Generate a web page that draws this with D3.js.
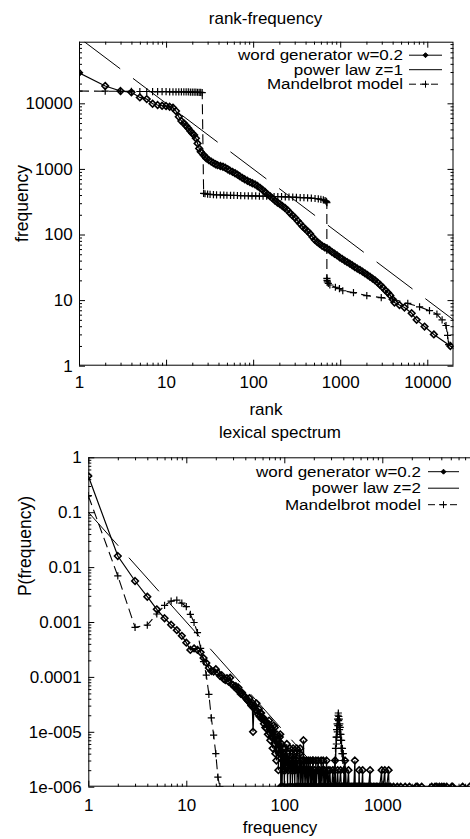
<!DOCTYPE html>
<html><head><meta charset="utf-8">
<script src="https://cdn.jsdelivr.net/npm/d3@7"></script>
<style>
html,body{margin:0;padding:0;background:#fff;}
svg{display:block;font-family:"Liberation Sans",Arial,Helvetica,sans-serif;}
</style></head><body>
<svg id="c" width="470" height="839"></svg>
<script>
// ---------------- DATA ----------------
// Panel 1: rank-frequency
const topTitle = "rank-frequency";
const topXLabel = "rank";
const topYLabel = "frequency";
const topXTicks = [1, 10, 100, 1000, 10000];
const topYTicks = [1, 10, 100, 1000, 10000];
const topLegend = ["word generator w=0.2", "power law z=1", "Mandelbrot model"];

const topWordRank = [1,2,3,4,5,6,7,8,9,10,11,12,13,14,15,16,17,18,19,20,21,22,23,24,
  25,27,28,29,31,33,35,37,39,42,45,48,51,54,58,62,66,70,75,80,86,92,98,105,112,120,128,137,146,156,167,178,190,203,217,232,248,265,283,303,324,346,370,395,422,450,480,510,545,580,620,660,705,755,805,860,920,985,1050,1125,1200,1285,1375,1470,1570,1680,1800,1925,2060,2200,2350,2510,2690,2880,3080,3300,3530,3760,4000,
  4200,4790,5470,6620,7540,9300,11900,18400,30000];
const topWordFreq = [29300,18400,15400,14700,12300,11600,9860,9420,9190,9100,8870,8570,7630,6250,5370,4950,4560,4160,3780,3490,3290,2930,2450,2050,
  1820,1630,1540,1450,1360,1290,1230,1180,1140,1110,1080,1040,990,945,900,860,820,775,730,695,660,630,605,580,550,515,480,445,410,385,355,330,308,290,272,254,235,213,195,180,162,147,132,122,112,103,92,83,77,72,67,64,61,58,54,51,48,45,42.5,40,38,36,34,32,30.3,28.8,27.2,25.6,24.1,22.7,21.3,20,18.5,17,15.6,14.1,13,11.8,10.3,
  9.2,8.4,7.7,6.3,5.0,3.95,3.0,2.0,1.2];

const topPowerRank = [1, 20000];
const topPowerFreq = [100000, 5];

const topMandRank = [1,2,3,4,5,6,7,8,9,10,11,12,13,14,15,16,17,18,19,20,21,22,23,24,25,26,
  27,28,30,32,35,38,42,46,50,55,60,66,72,80,88,97,107,118,130,143,158,174,192,212,234,258,285,314,347,383,422,466,514,560,600,640,670,690,698,702,
  703,706,712,730,760,880,980,1070,1420,2020,2960,4000,5970,8150,10600,12900,14800,16400,17100,17600];
const topMandFreq = [15400,15300,15250,15200,15150,15150,15100,15100,15050,15050,15000,15000,15000,14950,14950,14900,14900,14900,14850,14850,14800,14800,14750,14700,14650,14600,
  425,418,412,408,405,403,400,398,397,395,394,393,391,390,389,388,387,385,384,383,381,380,378,377,375,373,371,369,366,364,361,358,354,349,344,338,330,320,312,305,
  21.5,20,19,18,17,15.7,15,13.9,13,11.7,10.9,10.4,8.9,7.9,6.9,6.1,5.0,4.1,2.9,2.1];

// Panel 2: lexical spectrum
const botTitle = "lexical spectrum";
const botXLabel = "frequency";
const botYLabel = "P(frequency)";
const botXTicks = [1, 10, 100, 1000];
const botYTicks = [1, 0.1, 0.01, 0.001, 0.0001, 1e-5, 1e-6];
const botYTickLabels = ["1", "0.1", "0.01", "0.001", "0.0001", "1e-005", "1e-006"];
const botLegend = ["word generator w=0.2", "power law z=2", "Mandelbrot model"];

const botWordF = [1,2,3,4,5,6,7,8,9,10,11,12,13,14,15,16,17,18,19,20,21,22,23,24,25,26,27,28,29,30,
  31,32,33,34,35,36,37,38,39,40,41,42,43,44,45,46,47,48,49,50,51,52,53,54,55,56,57,58,59,60,
  61,62,63,64,65,66,67,68,69,70,71,72,73,74,75,76,77,78,79,80,81,82,83,84,85,86,87,88,89,90,
  91,92,93,94,95,96,97,98,99,100,102,103,105,106,108,109,111,112,114,115,117,118,120,121,123,125,126,128,129,131,
  134,135,137,139,141,143,145,147,149,151,153,155,157,159,162,164,166,169,171,173,176,178,181,184,186,189,192,195,197,199,
  203,206,210,213,217,222,225,229,233,238,242,246,250,253,258,263,270,274,280,285,292,297,305,312,318,325,330,334,342,350,
  356,365,375,382,392,400,408,412,417,421,430,440,452,458,470,485,500,512,525,530,545,560,575,580,585,600,618,630,635,655,
  680,700,725,750,755,780,810,840,870,900,940,985,990,1020,1060,1070,1110,1160,1170,1210,1300,1420,1540,1710,1890,2210,2280,2520,3190,3450,
  3590,3820,4040,4260,4540,5110,5220,6600,7800];
const botWordP = [0.456,0.0159,0.00558,0.00289,0.0017,0.00117,0.00089,0.00071,0.00056,0.00042,0.00031,0.00033,0.00031,0.00028,0.00022,0.00018,0.000145,0.000128,0.000125,0.000138,0.000118,0.000105,0.000107,0.000092,0.000088,0.000095,0.000082,0.000097,0.000074,0.000071,
  6.6e-5,6.8e-5,5.9e-5,6.4e-5,5.5e-5,4.9e-5,5.2e-5,4.7e-5,4.4e-5,4.3e-5,4.0e-5,3.8e-5,3.6e-5,4.1e-5,3.3e-5,3.0e-5,3.4e-5,1.0e-5,2.7e-5,2.9e-5,2.5e-5,3.3e-5,2.4e-5,2.1e-5,2.6e-5,1.9e-5,2.2e-5,2.2e-5,1.7e-5,1.8e-5,
  1.8e-5,1.4e-5,1.6e-5,1.2e-5,1.5e-5,1.15e-5,1.3e-5,9e-6,1.4e-5,1.6e-5,9.5e-6,7e-6,1.2e-5,8e-6,1.1e-5,5e-6,1.0e-5,1.3e-5,6e-6,1.2e-5,4e-6,8e-6,3e-6,9e-6,5e-6,7e-6,2e-6,6e-6,4e-6,8e-6,
  9e-6,1e-6,4e-6,6e-6,1e-6,3e-6,5e-6,2e-6,4e-6,1e-6,5e-6,2e-6,3e-6,6e-6,1e-6,4e-6,2e-6,3e-6,5e-6,1e-6,3e-6,2e-6,4e-6,1e-6,5e-6,2e-6,3e-6,1e-6,4e-6,2e-6,
  5e-6,1e-6,3e-6,2e-6,1e-6,4e-6,5e-6,1e-6,3e-6,2e-6,1e-6,3e-6,7e-6,1e-6,3e-6,2e-6,1e-6,3e-6,2e-6,1e-6,3e-6,1e-6,2e-6,3e-6,1e-6,2e-6,1e-6,3e-6,3e-6,1e-6,
  2e-6,1e-6,3e-6,1e-6,2e-6,3e-6,1e-6,2e-6,1e-6,3e-6,1e-6,2e-6,3e-6,1e-6,2e-6,1e-6,3e-6,1e-6,2e-6,1e-6,2e-6,1e-6,1e-6,2e-6,1e-6,1e-6,3e-6,1e-6,1e-6,2e-6,
  1e-6,1e-6,2e-6,1e-6,1e-6,1e-6,2e-6,1e-6,3e-6,1e-6,1e-6,1e-6,2e-6,1e-6,1e-6,1e-6,1e-6,1e-6,3e-6,1e-6,1e-6,1e-6,1e-6,2e-6,1e-6,1e-6,1e-6,2e-6,1e-6,1e-6,
  1e-6,1e-6,1e-6,2e-6,1e-6,1e-6,1e-6,1e-6,1e-6,1e-6,1e-6,2e-6,1e-6,1e-6,2e-6,1e-6,1e-6,2e-6,1e-6,1e-6,1e-6,1e-6,1e-6,1e-6,1e-6,1e-6,1e-6,1e-6,1e-6,1e-6,
  1e-6,1e-6,1e-6,1e-6,1e-6,1e-6,1e-6,1e-6,1e-6];

const botPowerF = [1, 200];
const botPowerP = [0.1, 2.5e-6];

const botMandF = [1,2,3,4,5,6,7,8,9,10,11,12,13,14,15,16,17,18,19,20,21,22,
  null,
  316,320,324,327,330,333,335,338,340,342,344,346,348,350,352,354,356,358,360,362,364,366,368,370,372,375,378,381,384,388,392,396,400,405,410,416,422,430];
const botMandP = [0.2,0.0069,0.0008,0.00088,0.0014,0.002,0.0024,0.0025,0.0022,0.0019,0.00138,0.00098,0.00064,0.00033,0.00019,0.000108,0.000048,0.000018,0.0000087,0.000004,0.0000015,0.000001,
  null,
  1e-6,2e-6,1e-6,3e-6,2e-6,5e-6,3e-6,8e-6,6e-6,11e-6,8e-6,14e-6,10e-6,17e-6,13e-6,20e-6,22e-6,16e-6,19e-6,13e-6,17e-6,11e-6,14e-6,9e-6,12e-6,7e-6,9e-6,5e-6,7e-6,4e-6,5e-6,3e-6,4e-6,2e-6,3e-6,1e-6,2e-6,1e-6];

// ---------------- DRAWING ----------------
const svg = d3.select('#c');
const FONT = 17;
const LEGFONT = 14;

function zip(a, b) { return a.map((v, i) => [v, b[i]]); }
function minorTicks(lo, hi) {
  const out = [];
  for (let e = Math.floor(Math.log10(lo)); e <= Math.ceil(Math.log10(hi)); e++) {
    for (let k = 2; k <= 9; k++) { const v = k * Math.pow(10, e); if (v > lo && v < hi) out.push(v); }
  }
  return out;
}
const diamondPath = r => `M0,${-r}L${r},0L0,${r}L${-r},0Z`;
const plusPath = r => `M${-r},0H${r}M0,${-r}V${r}`;

let clipId = 0;
function panel(o) {
  const g = svg.append('g');
  const x = d3.scaleLog().domain(o.xDomain).range(o.xRange);
  const y = d3.scaleLog().domain(o.yDomain).range(o.yRange);
  const L = o.xRange[0], R = o.xRange[1], B = o.yRange[0], T = o.yRange[1];
  const id = 'clip' + (clipId++);
  svg.append('clipPath').attr('id', id).append('rect')
    .attr('x', L).attr('y', T).attr('width', R - L).attr('height', B - T);

  const styleAxis = sel => {
    sel.attr('font-size', FONT).attr('font-family', '"Liberation Sans",Arial,sans-serif');
    sel.select('.domain').remove();
    sel.selectAll('line').attr('stroke', '#000').attr('stroke-width', 1);
    sel.selectAll('text').attr('fill', '#000');
  };
  const xMin = minorTicks(o.xDomain[0], o.xDomain[1]);
  const yMin = minorTicks(o.yDomain[0], o.yDomain[1]);
  g.append('g').attr('transform', `translate(0,${B})`)
    .call(d3.axisBottom(x).tickValues(o.xTicks).tickSize(-6).tickSizeOuter(0).tickPadding(o.xPad).tickFormat(d => String(d)))
    .call(styleAxis);
  g.append('g').attr('transform', `translate(0,${B})`)
    .call(d3.axisBottom(x).tickValues(xMin).tickSize(-3).tickSizeOuter(0).tickFormat(''))
    .call(styleAxis);
  g.append('g').attr('transform', `translate(0,${T})`)
    .call(d3.axisTop(x).tickValues(o.xTicks).tickSize(-6).tickSizeOuter(0).tickFormat(''))
    .call(styleAxis);
  g.append('g').attr('transform', `translate(0,${T})`)
    .call(d3.axisTop(x).tickValues(xMin).tickSize(-3).tickSizeOuter(0).tickFormat(''))
    .call(styleAxis);
  g.append('g').attr('transform', `translate(${L},0)`)
    .call(d3.axisLeft(y).tickValues(o.yTicks).tickSize(-6).tickSizeOuter(0).tickPadding(o.yPad)
      .tickFormat((d, i) => o.yTickLabels ? o.yTickLabels[i] : String(d)))
    .call(styleAxis);
  g.append('g').attr('transform', `translate(${L},0)`)
    .call(d3.axisLeft(y).tickValues(yMin).tickSize(-3).tickSizeOuter(0).tickFormat(''))
    .call(styleAxis);
  g.append('g').attr('transform', `translate(${R},0)`)
    .call(d3.axisRight(y).tickValues(o.yTicks).tickSize(-6).tickSizeOuter(0).tickFormat(''))
    .call(styleAxis);
  g.append('g').attr('transform', `translate(${R},0)`)
    .call(d3.axisRight(y).tickValues(yMin).tickSize(-3).tickSizeOuter(0).tickFormat(''))
    .call(styleAxis);
  g.append('rect').attr('x', L + 0.5).attr('y', T + 0.5).attr('width', R - L - 1).attr('height', B - T - 1)
    .attr('fill', 'none').attr('stroke', '#000').attr('stroke-width', 1);

  const plot = g.append('g').attr('clip-path', `url(#${id})`);
  const line = d3.line().defined(d => d[0] != null && d[1] != null).x(d => x(d[0])).y(d => y(d[1]));

  // word generator
  const wg = zip(o.word[0], o.word[1]);
  plot.append('path').attr('d', line(wg)).attr('fill', 'none').attr('stroke', '#000').attr('stroke-width', 1.2);
  plot.selectAll(null).data(wg).enter().append('path')
    .attr('transform', d => `translate(${x(d[0])},${y(d[1])})`)
    .attr('d', diamondPath(3.3)).attr('fill', 'none').attr('stroke', '#000').attr('stroke-width', 1.6);

  // power law
  let pw = zip(o.power[0], o.power[1]);
  const ly0 = Math.log10(pw[0][1]), ly1 = Math.log10(pw[1][1]);
  const lx0 = Math.log10(pw[0][0]), lx1 = Math.log10(pw[1][0]);
  const top = Math.log10(o.yDomain[1]);
  if (ly0 > top) {
    const t = (top - ly0) / (ly1 - ly0);
    pw[0] = [Math.pow(10, lx0 + t * (lx1 - lx0)), o.yDomain[1]];
  }
  plot.append('path').attr('d', line(pw)).attr('fill', 'none').attr('stroke', '#000').attr('stroke-width', 1)
    .attr('stroke-dasharray', '45,16');

  // Mandelbrot
  const md = zip(o.mand[0], o.mand[1]);
  plot.append('path').attr('d', line(md)).attr('fill', 'none').attr('stroke', '#000').attr('stroke-width', 1.1)
    .attr('stroke-dasharray', '10,5');
  plot.selectAll(null).data(md.filter(d => d[0] != null)).enter().append('path')
    .attr('transform', d => `translate(${x(d[0])},${y(d[1])})`)
    .attr('d', plusPath(3.6)).attr('fill', 'none').attr('stroke', '#000').attr('stroke-width', 1.2);

  // titles / labels
  svg.append('text').attr('x', o.titleX).attr('y', o.titleY).attr('text-anchor', 'middle')
    .attr('font-size', FONT).text(o.title);
  svg.append('text').attr('x', o.xLabelX).attr('y', o.xLabelY).attr('text-anchor', 'middle')
    .attr('font-size', FONT).text(o.xLabel);
  svg.append('text').attr('transform', `translate(${o.yLabelX},${o.yLabelY}) rotate(-90)`)
    .attr('text-anchor', 'middle').attr('font-size', o.yLabelSize).text(o.yLabel);

  // legend (compact height, width kept as in the reference)
  const lg = g.append('g');
  o.legend.forEach((txt, i) => {
    const by = o.legY[i];
    const t = lg.append('text').attr('x', o.legTextX).attr('y', by).attr('text-anchor', 'end')
      .attr('font-size', FONT).text(txt);
    const w = t.node().getComputedTextLength();
    t.attr('font-size', LEGFONT).attr('textLength', w).attr('lengthAdjust', 'spacingAndGlyphs');
    const cy = by - 4.8;
    const s = lg.append('line').attr('x1', o.legS0).attr('x2', o.legS1).attr('y1', cy).attr('y2', cy)
      .attr('stroke', '#000').attr('stroke-width', 1);
    const cx = (o.legS0 + o.legS1) / 2;
    if (i === 0) {
      lg.append('path').attr('transform', `translate(${cx},${cy})`).attr('d', diamondPath(2.5))
        .attr('fill', '#000').attr('stroke', '#000').attr('stroke-width', 1);
    } else if (i === 2) {
      s.attr('stroke-dasharray', '7,4');
      lg.append('path').attr('transform', `translate(${cx},${cy})`).attr('d', plusPath(3.5))
        .attr('stroke', '#000').attr('stroke-width', 1);
    }
  });
}

panel({
  xDomain: [1, 20000], xRange: [79, 453.5],
  yDomain: [1, 87000], yRange: [365.7, 41.7],
  xTicks: topXTicks, yTicks: topYTicks, xPad: 10, yPad: 6.3,
  word: [topWordRank, topWordFreq], power: [topPowerRank, topPowerFreq], mand: [topMandRank, topMandFreq],
  title: topTitle, titleX: 265.5, titleY: 24,
  xLabel: topXLabel, xLabelX: 266, xLabelY: 415,
  yLabel: topYLabel, yLabelX: 28, yLabelY: 203.5, yLabelSize: 17.5,
  legend: topLegend, legY: [60, 74.5, 89], legTextX: 403, legS0: 409, legS1: 442
});

panel({
  xDomain: [1, 10000], xRange: [88.3, 480.3],
  yDomain: [1e-6, 1], yRange: [786.7, 457.3],
  xTicks: botXTicks, yTicks: botYTicks, yTickLabels: botYTickLabels, xPad: 12, yPad: 6.6,
  word: [botWordF, botWordP], power: [botPowerF, botPowerP], mand: [botMandF, botMandP],
  title: botTitle, titleX: 280, titleY: 437.5,
  xLabel: botXLabel, xLabelX: 280, xLabelY: 833,
  yLabel: botYLabel, yLabelX: 31, yLabelY: 546, yLabelSize: 17.5,
  legend: botLegend, legY: [476.5, 493, 509.5], legTextX: 421, legS0: 428, legS1: 459
});
</script></body></html>
